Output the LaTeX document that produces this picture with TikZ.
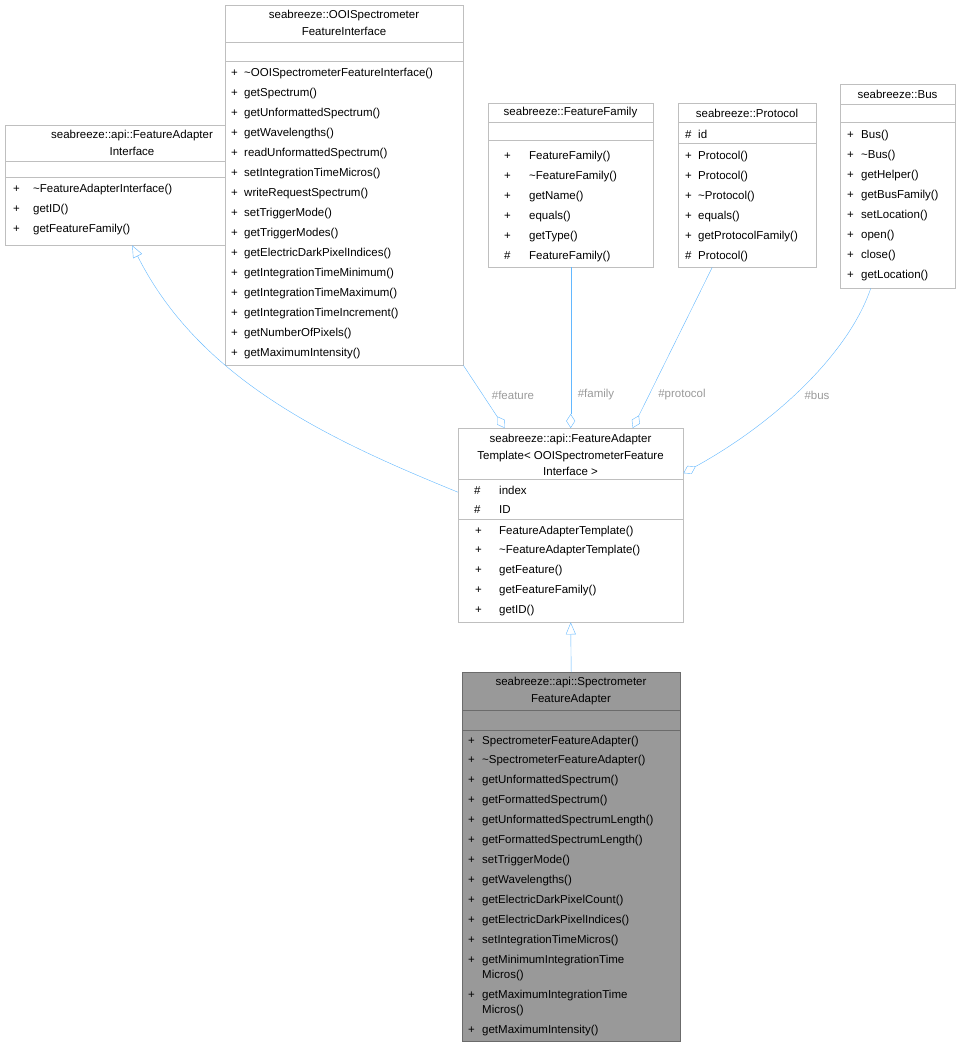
\documentclass[tikz,border=0pt]{standalone}
\usepackage{fontspec}
\setmainfont{Liberation Sans}
\definecolor{edgeblue}{RGB}{99, 184, 255}
\definecolor{boxgray}{RGB}{191, 191, 191}
\definecolor{labelgray}{RGB}{154, 154, 154}
\definecolor{selfgray}{RGB}{153, 153, 153}
\usetikzlibrary{arrows.meta,positioning,calc}

\tikzset{
    classbox/.style={rectangle, draw=boxgray, fill=white, anchor=north west, inner sep=0pt},
    member/.style={anchor=base west, inner sep=0pt, font=\fontsize{11.5}{14}\selectfont},
    title/.style={align=center, inner sep=0pt, font=\fontsize{11.5}{16.5}\selectfont},
    inherit/.style={draw=edgeblue, -{Triangle[open, fill=white, length=12pt, width=10pt]}},
    aggreg/.style={draw=edgeblue, {Diamond[open, fill=white, length=14pt, width=9pt]}-},
    rolelabel/.style={text=labelgray, font=\fontsize{11.5}{14}\selectfont, inner sep=0pt}
}

\begin{document}
\begin{tikzpicture}[x=1pt, y=-1pt]
    \useasboundingbox (0,0) rectangle (961,1047);

    % FeatureAdapterInterface
    \node[classbox, minimum width=254pt, minimum height=120pt] (ifc) at (5,125) {};
    \node[title] (ifct) at (132,143) {seabreeze::api::FeatureAdapter\\Interface};
    \draw[boxgray] (5,161) -- (259,161) (5,177) -- (259,177);
    \foreach \s/\m/\y in {+/\textasciitilde FeatureAdapterInterface()/192, +/getID()/212, +/getFeatureFamily()/232}
        {\node[member] at (13,\y) {\s}; \node[member] at (33,\y) {\m};}

    % OOISpectrometerFeatureInterface
    \node[classbox, minimum width=238pt, minimum height=360pt] (ooi) at (225,5) {};
    \node[title] (ooit) at (344,23) {seabreeze::OOISpectrometer\\FeatureInterface};
    \draw[boxgray] (225,42) -- (463,42) (225,61) -- (463,61);
    \foreach \m [count=\i from 0] in {\textasciitilde OOISpectrometerFeatureInterface(), getSpectrum(), getUnformattedSpectrum(), getWavelengths(), readUnformattedSpectrum(), setIntegrationTimeMicros(), writeRequestSpectrum(), setTriggerMode(), getTriggerModes(), getElectricDarkPixelIndices(), getIntegrationTimeMinimum(), getIntegrationTimeMaximum(), getIntegrationTimeIncrement(), getNumberOfPixels(), getMaximumIntensity()}
        {\node[member] at (231,76+20.07*\i) {+}; \node[member] at (244,76+20.07*\i) {\m};}

    % FeatureFamily
    \node[classbox, minimum width=165pt, minimum height=164pt] (fam) at (488,103) {};
    \node[title] (famt) at (570.5,113) {seabreeze::FeatureFamily};
    \draw[boxgray] (488,122) -- (653,122) (488,140) -- (653,140);
    \foreach \s/\m [count=\i from 0] in {+/FeatureFamily(), +/\textasciitilde FeatureFamily(), +/getName(), +/equals(), +/getType(), \#/FeatureFamily()}
        {\node[member] at (504,159+20*\i) {\s}; \node[member] at (529,159+20*\i) {\m};}

    % Protocol
    \node[classbox, minimum width=138pt, minimum height=164pt] (proto) at (678,103) {};
    \node[title] (protot) at (747,113) {seabreeze::Protocol};
    \draw[boxgray] (678,122) -- (816,122) (678,143) -- (816,143);
    \node[member] at (685,138) {\#}; \node[member] at (698,138) {id};
    \foreach \s/\m [count=\i from 0] in {+/Protocol(), +/Protocol(), +/\textasciitilde Protocol(), +/equals(), +/getProtocolFamily(), \#/Protocol()}
        {\node[member] at (685,159+20*\i) {\s}; \node[member] at (698,159+20*\i) {\m};}

    % Bus
    \node[classbox, minimum width=115pt, minimum height=204pt] (bus) at (840,84) {};
    \node[title] (bust) at (897.5,94) {seabreeze::Bus};
    \draw[boxgray] (840,104) -- (955,104) (840,122) -- (955,122);
    \foreach \m [count=\i from 0] in {Bus(), \textasciitilde Bus(), getHelper(), getBusFamily(), setLocation(), open(), close(), getLocation()}
        {\node[member] at (847,138+20.1*\i) {+}; \node[member] at (861,138+20.1*\i) {\m};}

    % FeatureAdapterTemplate
    \node[classbox, minimum width=225pt, minimum height=194pt] (tpl) at (458,428) {};
    \node[title] (tplt) at (570.5,455) {seabreeze::api::FeatureAdapter\\Template< OOISpectrometerFeature\\Interface >};
    \draw[boxgray] (458,479) -- (683,479) (458,519) -- (683,519);
    \node[member] at (474,494) {\#}; \node[member] at (499,494) {index};
    \node[member] at (474,513) {\#}; \node[member] at (499,513) {ID};
    \foreach \m [count=\i from 0] in {FeatureAdapterTemplate(), \textasciitilde FeatureAdapterTemplate(), getFeature(), getFeatureFamily(), getID()}
        {\node[member] at (475,534+19.8*\i) {+}; \node[member] at (499,534+19.8*\i) {\m};}

    % SpectrometerFeatureAdapter
    \node[classbox, draw=selfgray!70!black, fill=selfgray, minimum width=218pt, minimum height=369pt] (spc) at (462,672) {};
    \node[title] (spct) at (571,691) {seabreeze::api::Spectrometer\\FeatureAdapter};
    \draw[selfgray!70!black] (462,710) -- (680,710) (462,730) -- (680,730);
    \foreach \m/\y in {SpectrometerFeatureAdapter()/744, \textasciitilde SpectrometerFeatureAdapter()/763, getUnformattedSpectrum()/783, getFormattedSpectrum()/803, getUnformattedSpectrumLength()/823, getFormattedSpectrumLength()/843, setTriggerMode()/863, getWavelengths()/883, getElectricDarkPixelCount()/903, getElectricDarkPixelIndices()/923, setIntegrationTimeMicros()/943, getMinimumIntegrationTime/963, getMaximumIntegrationTime/998, getMaximumIntensity()/1033}
        {\node[member] at (468,\y) {+}; \node[member] at (482,\y) {\m};}
    \node[member] at (482,978) {Micros()};
    \node[member] at (482,1013) {Micros()};

    % Connectors
    \draw[inherit] (spc.north) -- (tpl.south);
    \draw[inherit] ([yshift=33pt]tpl.west) .. controls (330,440) and (200,380) .. (ifc.south);
    \draw[aggreg] ([xshift=-66pt]tpl.north) -- (ooi.south east);
    \draw[aggreg] (tpl.north) -- (fam.south);
    \draw[aggreg] ([xshift=62pt]tpl.north) -- ([xshift=-35pt]proto.south);
    \draw[aggreg] ([yshift=52pt]tpl.east) .. controls (780,420) and (850,350) .. ([xshift=-27pt]bus.south);

    \node[rolelabel] (lfeat) at (513,395) {\#feature};
    \node[rolelabel] (lfam) at (596,395) {\#family};
    \node[rolelabel] (lproto) at (682,395) {\#protocol};
    \node[rolelabel] (lbus) at (817,395) {\#bus};
\end{tikzpicture}
\end{document}
